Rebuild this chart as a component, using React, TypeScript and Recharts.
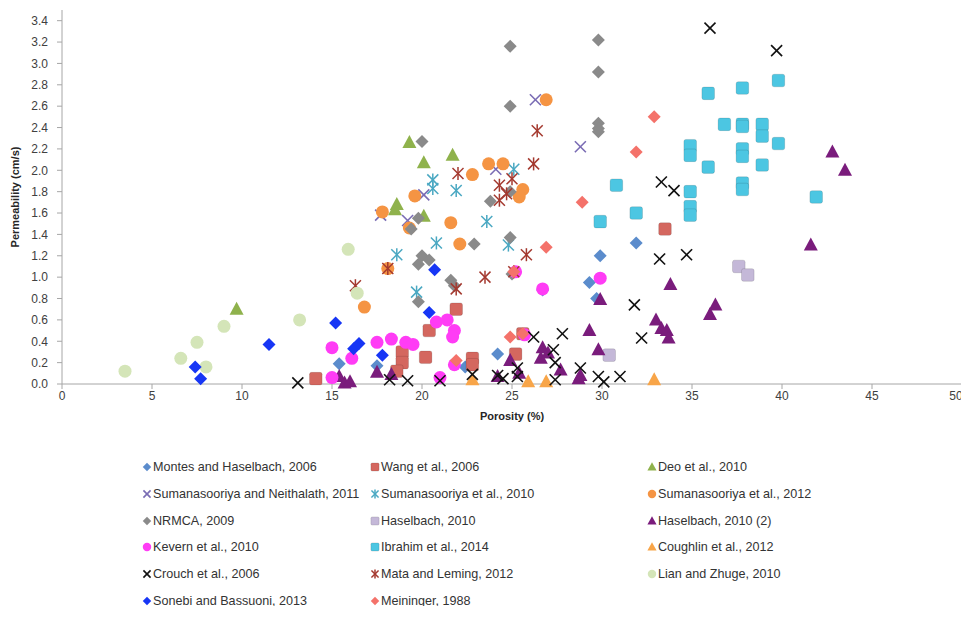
import React from "react";
import { ScatterChart, Scatter, XAxis, YAxis } from "recharts";

type Pt = [number, number];
type Kind = "diamond" | "square" | "triangle" | "circle" | "x" | "star";

// porosity (%), permeability (cm/s)
const montes: Pt[] = [
  [15.4, 0.19], [17.5, 0.17], [22.4, 0.16], [24.2, 0.28], [26.7, 0.88],
  [29.3, 0.95], [29.7, 0.8], [29.9, 1.2], [31.9, 1.32],
];
const wang: Pt[] = [
  [14.1, 0.05], [18.9, 0.3], [18.9, 0.2], [18.6, 0.12], [20.2, 0.25], [20.4, 0.5],
  [21.9, 0.7], [22.8, 0.24], [22.8, 0.18], [25.2, 0.28], [25.6, 0.47], [33.5, 1.45],
];
const deo: Pt[] = [
  [9.7, 0.7], [18.5, 1.63], [18.6, 1.68], [19.3, 2.26], [20.1, 2.07], [20.1, 1.57], [21.7, 2.14],
];
const sumNeith: Pt[] = [
  [26.3, 2.66], [28.8, 2.22], [17.7, 1.58], [24.1, 2.01], [20.1, 1.77], [19.2, 1.53],
];
const sum2010: Pt[] = [
  [20.6, 1.91], [20.6, 1.83], [21.9, 1.81], [25.1, 2.01], [23.6, 1.52], [20.8, 1.32],
  [18.6, 1.21], [24.8, 1.3], [19.7, 0.86],
];
const sum2012: Pt[] = [
  [26.9, 2.66], [23.7, 2.06], [24.5, 2.06], [22.8, 1.96], [19.6, 1.76], [17.8, 1.61],
  [25.6, 1.82], [25.4, 1.75], [21.6, 1.51], [19.3, 1.46], [22.1, 1.31], [18.1, 1.08], [16.8, 0.72],
];
const nrmca: Pt[] = [
  [24.9, 3.16], [29.8, 3.22], [29.8, 2.92], [24.9, 2.6], [29.8, 2.44], [29.8, 2.39], [29.8, 2.36],
  [20.0, 2.27], [23.8, 1.71], [24.9, 1.8], [19.8, 1.55], [19.4, 1.45], [22.9, 1.31], [24.9, 1.37],
  [20.0, 1.2], [20.4, 1.16], [19.8, 1.12], [21.6, 0.97], [21.8, 0.92], [19.8, 0.77], [25.0, 1.03],
];
const haselbach: Pt[] = [[37.6, 1.1], [38.1, 1.02], [30.4, 0.27]];
const haselbach2: Pt[] = [
  [15.4, 0.07], [15.7, 0.01], [16.0, 0.02], [17.5, 0.11], [18.3, 0.09], [24.2, 0.07],
  [24.9, 0.22], [25.4, 0.1], [26.6, 0.24], [26.7, 0.34], [27.0, 0.29], [27.7, 0.13],
  [28.7, 0.05], [28.8, 0.08], [29.3, 0.5], [29.8, 0.32], [29.9, 0.79], [33.0, 0.6],
  [33.3, 0.52], [33.6, 0.5], [33.7, 0.43], [33.8, 0.93], [36.0, 0.65], [36.3, 0.74],
  [41.6, 1.3], [42.8, 2.17], [43.5, 2.0],
];
const kevern: Pt[] = [
  [15.0, 0.34], [15.0, 0.06], [16.1, 0.24], [17.5, 0.39], [18.3, 0.42], [19.1, 0.39],
  [19.5, 0.37], [20.8, 0.58], [21.4, 0.6], [21.8, 0.5], [21.7, 0.44], [21.0, 0.06],
  [21.8, 0.18], [25.7, 0.46], [26.7, 0.89], [29.9, 0.99], [25.2, 1.05],
];
const ibrahim: Pt[] = [
  [35.9, 2.72], [37.8, 2.77], [39.8, 2.84], [36.8, 2.43], [37.8, 2.43], [37.8, 2.41],
  [38.9, 2.43], [38.9, 2.32], [39.8, 2.25], [34.9, 2.23], [34.9, 2.14], [37.8, 2.2],
  [37.8, 2.13], [35.9, 2.03], [38.9, 2.05], [30.8, 1.86], [37.8, 1.88], [37.8, 1.82],
  [34.9, 1.8], [34.9, 1.66], [34.9, 1.58], [41.9, 1.75], [31.9, 1.6], [29.9, 1.52],
];
const coughlin: Pt[] = [[22.8, 0.04], [25.9, 0.02], [26.9, 0.02], [32.9, 0.04]];
const crouch: Pt[] = [
  [13.1, 0.01], [18.2, 0.04], [19.2, 0.03], [21.0, 0.03], [22.8, 0.09], [24.2, 0.08],
  [24.5, 0.05], [25.3, 0.15], [25.3, 0.07], [26.2, 0.44], [27.3, 0.32], [27.4, 0.2],
  [27.4, 0.04], [27.8, 0.47], [28.8, 0.15], [29.8, 0.07], [30.1, 0.02], [31.0, 0.07],
  [31.8, 0.74], [32.2, 0.43], [33.2, 1.17], [33.3, 1.89], [34.0, 1.81], [34.7, 1.21],
  [36.0, 3.33], [39.7, 3.12],
];
const mata: Pt[] = [
  [26.4, 2.37], [26.2, 2.06], [22.0, 1.97], [24.3, 1.86], [25.0, 1.92], [24.3, 1.72],
  [24.7, 1.78], [18.1, 1.08], [16.3, 0.92], [21.9, 0.89], [23.5, 1.0], [25.8, 1.21], [25.1, 1.05],
];
const lian: Pt[] = [
  [3.5, 0.12], [6.6, 0.24], [7.5, 0.39], [8.0, 0.16], [9.0, 0.54], [13.2, 0.6], [15.9, 1.26], [16.4, 0.85],
];
const sonebi: Pt[] = [
  [7.4, 0.16], [7.7, 0.05], [11.5, 0.37], [15.2, 0.57], [16.2, 0.33], [16.5, 0.38],
  [17.8, 0.27], [20.4, 0.67], [20.7, 1.07],
];
const meininger: Pt[] = [
  [32.9, 2.5], [31.9, 2.17], [28.9, 1.7], [26.9, 1.28], [25.1, 1.05], [24.9, 0.44], [25.6, 0.47], [21.9, 0.22],
];

const xTicks = [0, 5, 10, 15, 20, 25, 30, 35, 40, 45, 50];
const yTicks = [0, 0.2, 0.4, 0.6, 0.8, 1.0, 1.2, 1.4, 1.6, 1.8, 2.0, 2.2, 2.4, 2.6, 2.8, 3.0, 3.2, 3.4];

interface SeriesDef {
  name: string;
  kind: Kind;
  color: string;
  points: Pt[];
}

const series: SeriesDef[] = [
  { name: "Montes and Haselbach, 2006", kind: "diamond", color: "#5b8ccc", points: montes },
  { name: "Wang et al., 2006", kind: "square", color: "#d4675f", points: wang },
  { name: "Deo et al., 2010", kind: "triangle", color: "#8fb24c", points: deo },
  { name: "Sumanasooriya and Neithalath, 2011", kind: "x", color: "#7a6cb4", points: sumNeith },
  { name: "Sumanasooriya et al., 2010", kind: "star", color: "#4aa8c2", points: sum2010 },
  { name: "Sumanasooriya et al., 2012", kind: "circle", color: "#f59443", points: sum2012 },
  { name: "NRMCA, 2009", kind: "diamond", color: "#8a8a8a", points: nrmca },
  { name: "Haselbach, 2010", kind: "square", color: "#c4b8d8", points: haselbach },
  { name: "Haselbach, 2010 (2)", kind: "triangle", color: "#7a1c7c", points: haselbach2 },
  { name: "Kevern et al., 2010", kind: "circle", color: "#ff3cf5", points: kevern },
  { name: "Ibrahim et al., 2014", kind: "square", color: "#4cc6e2", points: ibrahim },
  { name: "Coughlin et al., 2012", kind: "triangle", color: "#f8a548", points: coughlin },
  { name: "Crouch et al., 2006", kind: "x", color: "#111111", points: crouch },
  { name: "Mata and Leming, 2012", kind: "star", color: "#a4392f", points: mata },
  { name: "Lian and Zhuge, 2010", kind: "circle", color: "#d4e5b8", points: lian },
  { name: "Sonebi and Bassuoni, 2013", kind: "diamond", color: "#1736f5", points: sonebi },
  { name: "Meininger, 1988", kind: "diamond", color: "#f4726a", points: meininger },
];

const font = "'Liberation Sans', Arial, sans-serif";

function Marker({ cx, cy, kind, color, s = 1 }: { cx: number; cy: number; kind: Kind; color: string; s?: number }) {
  switch (kind) {
    case "diamond": {
      const r = 6.5 * s;
      return <path d={`M${cx},${cy - r}L${cx + r},${cy}L${cx},${cy + r}L${cx - r},${cy}Z`} fill={color} />;
    }
    case "square": {
      const h = 6.3 * s;
      return <rect x={cx - h} y={cy - h} width={h * 2} height={h * 2} rx={2 * s} fill={color} stroke="rgba(0,0,0,0.15)" strokeWidth={0.8} />;
    }
    case "triangle": {
      const w = 7 * s;
      return <path d={`M${cx},${cy - 7.5 * s}L${cx + w},${cy + 5.5 * s}L${cx - w},${cy + 5.5 * s}Z`} fill={color} />;
    }
    case "circle":
      return <circle cx={cx} cy={cy} r={6.5 * s} fill={color} />;
    case "x": {
      const h = 5.5 * s;
      return (
        <g stroke={color} strokeWidth={1.6}>
          <line x1={cx - h} y1={cy - h} x2={cx + h} y2={cy + h} />
          <line x1={cx - h} y1={cy + h} x2={cx + h} y2={cy - h} />
        </g>
      );
    }
    case "star": {
      const h = 5.5 * s;
      return (
        <g stroke={color} strokeWidth={1.5}>
          <line x1={cx - h} y1={cy - h} x2={cx + h} y2={cy + h} />
          <line x1={cx - h} y1={cy + h} x2={cx + h} y2={cy - h} />
          <line x1={cx} y1={cy - h - 1} x2={cx} y2={cy + h + 1} />
        </g>
      );
    }
  }
  return null;
}

// last label sits at the window edge, so pull it in a little
function XTick({ x, y, payload, index }: any) {
  const dx = index === xTicks.length - 1 ? -6 : 0;
  return (
    <text x={x + dx} y={y + 9} textAnchor="middle" fontSize={12} fill="#404040" fontFamily={font}>
      {payload.value}
    </text>
  );
}

function LegendGrid() {
  const colX = [134, 362, 639];
  return (
    <div style={{ position: "absolute", left: 0, top: 446, width: 940, fontFamily: font, fontSize: 12.6, color: "#333" }}>
      {series.map((d, i) => {
        const row = Math.floor(i / 3);
        const col = i % 3;
        return (
          <div
            key={d.name}
            style={{ position: "absolute", left: colX[col], top: row * 26.8, height: 26, display: "flex", alignItems: "center", whiteSpace: "nowrap" }}
          >
            <svg width={10} height={10} style={{ marginRight: 1 }}>
              <Marker cx={5} cy={5} kind={d.kind} color={d.color} s={0.65} />
            </svg>
            {d.name}
          </div>
        );
      })}
    </div>
  );
}

export default function App() {
  return (
    <div style={{ position: "relative", width: 953, height: 598, background: "#fff" }}>
      <ScatterChart width={961} height={420} margin={{ top: 2, right: 7, bottom: 14, left: 14 }}>
        <XAxis
          type="number"
          dataKey="x"
          domain={[0, 50]}
          ticks={xTicks}
          interval={0}
          height={30}
          stroke="#a6a6a6"
          tickSize={5}
          tick={<XTick />}
          label={{ value: "Porosity (%)", position: "insideBottom", offset: -6, style: { fontSize: 11, fontWeight: 700, fill: "#262626", fontFamily: font } }}
        />
        <YAxis
          type="number"
          dataKey="y"
          domain={[0, 3.5]}
          ticks={yTicks}
          interval={0}
          width={40}
          stroke="#a6a6a6"
          tickSize={5}
          tickMargin={9}
          tickFormatter={(v: number) => v.toFixed(1)}
          tick={{ fontSize: 12, fill: "#404040", fontFamily: font }}
          label={{ value: "Permeability (cm/s)", angle: -90, position: "insideLeft", offset: -7, style: { textAnchor: "middle", fontSize: 11, fontWeight: 700, fill: "#262626", fontFamily: font } }}
        />
        {series.map((d) => (
          <Scatter
            key={d.name}
            name={d.name}
            data={d.points.map(([x, y]) => ({ x, y }))}
            isAnimationActive={false}
            shape={(p: any) => <Marker cx={p.cx} cy={p.cy} kind={d.kind} color={d.color} />}
          />
        ))}
      </ScatterChart>
      <LegendGrid />
    </div>
  );
}
